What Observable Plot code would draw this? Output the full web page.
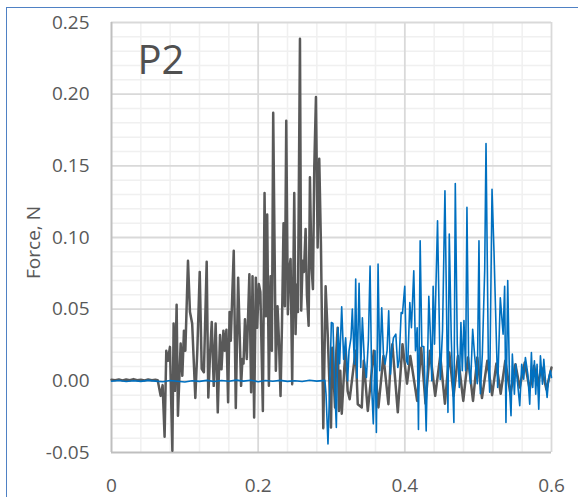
<!DOCTYPE html>
<html>
<head>
<meta charset="utf-8">
<script src="https://cdn.jsdelivr.net/npm/d3@7"></script>
<script src="https://cdn.jsdelivr.net/npm/@observablehq/plot@0.6"></script>
<style>
  body { margin: 0; background: #fff; }
  #wrap { position: relative; width: 578px; height: 497px; overflow: hidden; }
  #frame { position: absolute; left: 6px; top: 7px; right: -20px; bottom: -20px;
           border-top: 1.5px solid #4f81c4; border-left: 1.5px solid #4f81c4; pointer-events: none; }
</style>
</head>
<body>
<div id="wrap"><div id="frame"></div></div>
<script>
// Series: [time, force]
const gray = [
[0,0.0008],[0.005,0.0005],[0.01,0.001],[0.015,0.0003],[0.02,0.0009],[0.025,0.0004],[0.03,0.0012],[0.035,0.0005],[0.04,0.0008],[0.045,0.0003],[0.05,0.0009],[0.055,0.0004],[0.06,0.0007],[0.063,0.0005],
[0.067,-0.0105],[0.0697,-0.003],[0.0724,-0.039],[0.0747,0.021],[0.077,0.014],[0.0797,0.0237],[0.083,-0.0488],[0.0847,0.040],[0.0865,-0.007],[0.0888,0.053],[0.0906,-0.0244],[0.0943,0.026],[0.0966,0.0035],[0.0988,0.035],[0.1007,0.021],[0.1043,0.0837],[0.107,0.048],[0.110,0.040],[0.1143,-0.012],[0.117,0.021],[0.1203,0.076],[0.123,0.0084],[0.126,0.006],[0.1298,0.083],[0.132,-0.0116],[0.1344,0.019],[0.1367,0.041],[0.1394,-0.0035],[0.142,0.040],[0.1449,-0.022],[0.148,0.032],[0.150,0.008],[0.1526,0.035],[0.1545,0.021],[0.1567,0.0356],[0.159,-0.015],[0.161,0.048],[0.1626,0.028],[0.1667,0.0907],[0.1695,-0.019],[0.1727,0.072],[0.1767,-0.0035],[0.1786,0.0153],[0.180,0.012],[0.182,0.043],[0.1845,0.0153],[0.188,0.0744],[0.1904,-0.008],[0.1923,0.073],[0.1945,-0.0256],[0.1968,0.072],[0.1986,0.037],[0.2009,0.0675],[0.203,0.062],[0.2064,-0.021],[0.2087,0.131],[0.2105,0.045],[0.2123,0.116],[0.2146,-0.0035],[0.2169,0.073],[0.2187,0.021],[0.2205,0.187],[0.2241,0.007],[0.2264,0.052],[0.2282,0.030],[0.2305,-0.0105],[0.2325,0.040],[0.2346,0.110],[0.2364,0.052],[0.2383,0.1814],[0.2405,0.0465],[0.2423,0.0775],[0.2442,0.085],[0.2464,-0.0023],[0.2492,0.131],[0.251,0.0326],[0.2527,0.067],[0.2542,0.048],[0.257,0.2386],[0.2587,0.049],[0.2606,0.0837],[0.2624,0.076],[0.2647,0.106],[0.2665,0.060],[0.2688,0.0384],[0.2706,0.142],[0.2727,0.080],[0.2747,0.064],[0.2765,0.149],[0.2788,0.198],[0.2811,0.093],[0.2833,0.155],[0.2856,0.095],[0.2888,-0.033],[0.292,0.066],[0.2948,0.0326],[0.2993,-0.0326],[0.301,0.023],[0.3048,-0.0186],[0.3066,0.021],[0.3084,0.037],[0.3102,-0.021],[0.312,0.007],[0.314,-0.023],[0.3175,0.0093],[0.3193,0.021],[0.322,-0.007],[0.3248,-0.0128],[0.3303,0.0105],[0.333,0.021],[0.3358,-0.0163],[0.3413,-0.0186],[0.344,0.014],[0.3495,-0.021],[0.3577,0.021],[0.364,-0.0186],[0.3708,0.0174],[0.3776,-0.0163],[0.3809,0.0163],[0.383,0.0256],[0.3904,-0.022],[0.3968,0.0256],[0.403,-0.002],[0.4075,0.0174],[0.4168,-0.014],[0.4223,0.023],[0.4282,-0.016],[0.4342,0.021],[0.4414,-0.0105],[0.4483,0.0174],[0.4547,-0.016],[0.4606,0.0198],[0.4665,-0.0105],[0.4724,0.0174],[0.4797,-0.014],[0.4861,0.0163],[0.493,-0.014],[0.4988,0.0163],[0.5052,-0.012],[0.5125,0.014],[0.519,-0.010],[0.5248,0.012],[0.5307,-0.009],[0.537,0.014],[0.544,-0.0093],[0.5508,0.0116],[0.5567,-0.0047],[0.5635,0.0128],[0.5703,-0.006],[0.5763,0.0105],[0.581,-0.003],[0.5863,0.0093],[0.5931,-0.006],[0.600,0.0093]
];

const blue = [
[0,-0.0003],[0.01,0.0002],[0.02,-0.0005],[0.03,0.0001],[0.04,-0.0004],[0.05,0.0003],[0.06,-0.0002],[0.07,-0.0006],[0.08,0.0002],[0.09,-0.0003],[0.10,-0.0008],[0.11,0.0001],[0.12,-0.0004],[0.13,0.0003],[0.14,-0.0005],[0.15,0.0002],[0.16,-0.0003],[0.17,0.0005],[0.18,-0.0002],[0.19,0.0004],[0.20,-0.0006],[0.21,0.0002],[0.22,-0.0003],[0.23,0.0003],[0.24,-0.0004],[0.25,0.0001],[0.26,-0.0005],[0.27,0.0004],[0.28,-0.0002],[0.291,0.0003],
[0.2925,-0.009],[0.2952,-0.044],[0.2975,-0.005],[0.2998,0.0407],[0.302,0.040],[0.3043,-0.0023],[0.3066,-0.0326],[0.3089,0.037],[0.3111,0.012],[0.3139,0.0516],[0.3166,0.015],[0.3193,0.030],[0.322,0.0],[0.3239,0.021],[0.3266,0.030],[0.3284,0.050],[0.3312,0.0116],[0.333,0.071],[0.3348,0.002],[0.3376,0.068],[0.3399,0.0093],[0.3421,0.044],[0.3448,0.014],[0.3476,0.0023],[0.3503,0.028],[0.3526,0.080],[0.355,-0.007],[0.357,-0.030],[0.3594,0.021],[0.3612,-0.036],[0.3635,0.0814],[0.3658,0.007],[0.3685,0.051],[0.3708,0.0186],[0.373,0.0116],[0.3758,0.021],[0.378,0.0488],[0.3804,0.0047],[0.3822,0.021],[0.3845,0.030],[0.3877,0.0326],[0.3904,0.0093],[0.3922,0.014],[0.395,0.0477],[0.3968,0.047],[0.3999,0.066],[0.4022,0.014],[0.404,0.0116],[0.4068,0.0547],[0.409,0.037],[0.4122,0.0768],[0.4145,0.021],[0.4168,0.037],[0.4186,-0.034],[0.4209,0.0977],[0.4232,0.024],[0.4259,0.024],[0.4291,-0.035],[0.4327,0.059],[0.435,0.030],[0.4368,0.0],[0.4386,0.066],[0.4405,0.0256],[0.4446,0.1117],[0.4483,0.001],[0.4514,0.035],[0.4547,0.1326],[0.4588,-0.022],[0.4606,0.1024],[0.4633,0.030],[0.4669,-0.029],[0.4688,0.1377],[0.4715,0.0256],[0.4743,-0.0047],[0.4765,0.0407],[0.4783,0.007],[0.4806,0.042],[0.4829,0.007],[0.4847,0.121],[0.487,0.0128],[0.4897,-0.002],[0.4925,0.036],[0.4952,0.0174],[0.4988,-0.002],[0.5011,0.0977],[0.503,-0.009],[0.5057,0.019],[0.5089,0.077],[0.5107,0.1656],[0.5139,0.014],[0.5157,-0.008],[0.5189,0.1337],[0.5216,0.090],[0.5243,0.038],[0.5266,-0.0047],[0.5302,0.058],[0.534,0.0326],[0.5361,0.066],[0.5379,-0.029],[0.5403,0.070],[0.543,-0.007],[0.5448,-0.0244],[0.5466,0.0186],[0.5494,-0.0093],[0.5512,0.0116],[0.5539,-0.0023],[0.5567,-0.0174],[0.5594,0.0116],[0.5621,0.0012],[0.5644,0.0163],[0.5676,0.005],[0.5703,-0.0163],[0.5726,0.0198],[0.5744,-0.0047],[0.5767,0.014],[0.5785,-0.0093],[0.5803,0.0116],[0.5826,-0.0198],[0.5849,0.0174],[0.5877,-0.0023],[0.5895,0.015],[0.5918,0.0],[0.594,-0.0116],[0.5963,0.0023],[0.5986,0.007],[0.600,0.0023]
];

const xTicks = [0, 0.2, 0.4, 0.6];
const yTicks = [-0.05, 0, 0.05, 0.10, 0.15, 0.20, 0.25];
const xMinor = [0.04, 0.08, 0.12, 0.16, 0.24, 0.28, 0.32, 0.36, 0.44, 0.48, 0.52, 0.56];
const yMinor = [-0.04,-0.03,-0.02,-0.01,0.01,0.02,0.03,0.04,0.06,0.07,0.08,0.09,0.11,0.12,0.13,0.14,0.16,0.17,0.18,0.19,0.21,0.22,0.23,0.24];
const yLabel = "Force, N";
const panelLabel = "P2";

const grayData = gray.map(([t, f]) => ({t, f}));
const blueData = blue.map(([t, f]) => ({t, f}));

const chart = Plot.plot({
  width: 578,
  height: 497,
  marginLeft: 111,
  marginRight: 27,
  marginTop: 22,
  marginBottom: 45,
  style: {fontFamily: "'Open Sans', sans-serif", fontSize: "19px", color: "#595959", background: "transparent"},
  x: {domain: [0, 0.6], label: null},
  y: {domain: [-0.05, 0.25], label: null},
  marks: [
    Plot.ruleX(xMinor, {stroke: "#f0f0f0", strokeWidth: 1.5}),
    Plot.ruleY(yMinor, {stroke: "#f0f0f0", strokeWidth: 1.5}),
    Plot.ruleX(xTicks.slice(1), {stroke: "#d9d9d9", strokeWidth: 1.8}),
    Plot.ruleY(yTicks.slice(1), {stroke: "#d9d9d9", strokeWidth: 1.8}),
    Plot.ruleX([0], {stroke: "#bfbfbf", strokeWidth: 2}),
    Plot.ruleY([-0.05], {stroke: "#bfbfbf", strokeWidth: 2}),
    Plot.axisX({ticks: xTicks, tickFormat: d => String(d), tickSize: 0, tickPadding: 26, fontSize: 19, label: null}),
    Plot.axisY({ticks: yTicks, tickFormat: d => d.toFixed(2), tickSize: 0, tickPadding: 22, fontSize: 19, label: null}),
    Plot.line(grayData, {x: "t", y: "f", stroke: "#595959", strokeWidth: 2.5, strokeLinejoin: "round"}),
    Plot.line(blueData, {x: "t", y: "f", stroke: "#0070c0", strokeWidth: 1.6, strokeLinejoin: "round"}),
    Plot.text([yLabel], {frameAnchor: "left", rotate: -90, dx: -78, dy: 5, textAnchor: "middle", lineAnchor: "middle", fontSize: 19, fill: "#595959"}),
    Plot.text([panelLabel], {frameAnchor: "top-left", dx: 26, dy: 23, textAnchor: "start", lineAnchor: "top", fontSize: 40, fill: "#505050"})
  ]
});
document.getElementById("wrap").prepend(chart);
</script>
</body>
</html>
